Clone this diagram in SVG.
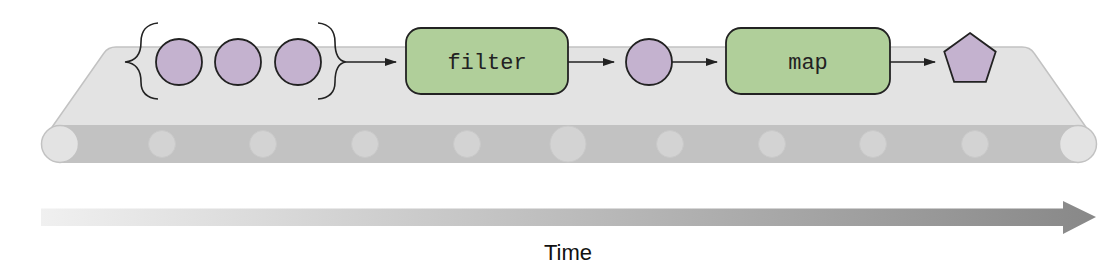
<svg xmlns="http://www.w3.org/2000/svg" width="1120" height="275" viewBox="0 0 1120 275">
<defs>
<style>
.surface{fill:#e3e3e3;stroke:#c2c2c2;stroke-width:1.5}
.band{fill:#c2c2c2}
.roller{fill:#d3d3d3;stroke:#c9c9c9;stroke-width:1}
.endroller{fill:#e3e3e3;stroke:#c2c2c2;stroke-width:1.5}
.item{fill:#c4b2cf;stroke:#222;stroke-width:1.8}
.op{fill:#b0cf9a;stroke:#222;stroke-width:1.8}
.brace{fill:none;stroke:#222;stroke-width:1.6}
.conn{fill:none;stroke:#222;stroke-width:1.5;marker-end:url(#ah)}
.code{font-family:"Liberation Mono",monospace;font-size:22px;fill:#222;text-anchor:middle}
.label{font-family:"Liberation Sans",Arial,sans-serif;font-size:22px;fill:#111;text-anchor:middle}
</style>
<marker id="ah" markerWidth="12" markerHeight="8" refX="11" refY="4" orient="auto" markerUnits="userSpaceOnUse">
<path d="M0,0 L12,4 L0,8 Z" fill="#222"/>
</marker>
<linearGradient id="tg" x1="41" y1="0" x2="1096" y2="0" gradientUnits="userSpaceOnUse">
<stop offset="0" stop-color="#f0f0f0"/>
<stop offset="1" stop-color="#888888"/>
</linearGradient>
</defs>

<g id="belt">
<path class="surface" d="M43,140 L104,53 Q108,47 116,47 L1022,47 Q1030,47 1034,53 L1095,140 Z"/>
<rect class="band" x="60" y="125" width="1018" height="38"/>
<circle class="endroller" cx="60" cy="144" r="18.5"/>
<circle class="endroller" cx="1078" cy="144" r="18.5"/>
<circle class="roller" cx="162" cy="144" r="13.5"/>
<circle class="roller" cx="263" cy="144" r="13.5"/>
<circle class="roller" cx="365" cy="144" r="13.5"/>
<circle class="roller" cx="467" cy="144" r="13.5"/>
<circle class="roller" cx="568" cy="144" r="18"/>
<circle class="roller" cx="670" cy="144" r="13.5"/>
<circle class="roller" cx="772" cy="144" r="13.5"/>
<circle class="roller" cx="873" cy="144" r="13.5"/>
<circle class="roller" cx="975" cy="144" r="13.5"/>
</g>

<g id="input">
<path class="brace" d="M158,23 C146,24 141,32 141,42 C141,54 136,61 125,62 C136,63 141,70 141,82 C141,92 146,98 158,99"/>
<path class="brace" d="M318,23 C330,24 335,32 335,42 C335,54 338,61 346,62 C338,63 335,70 335,82 C335,92 330,98 318,99"/>
<circle class="item" cx="179" cy="62" r="23"/>
<circle class="item" cx="238" cy="62" r="23"/>
<circle class="item" cx="298" cy="62" r="23"/>
</g>

<g id="filter">
<rect class="op" x="406" y="28" width="162" height="66" rx="15"/>
<text class="code" x="487" y="69">filter</text>
</g>

<g id="mid">
<circle class="item" cx="649" cy="62" r="23"/>
</g>

<g id="map">
<rect class="op" x="726" y="28" width="164" height="66" rx="15"/>
<text class="code" x="808" y="69">map</text>
</g>

<g id="output">
<polygon class="item" points="970,33 995.7,51.7 985.9,81.8 954.1,81.8 944.3,51.7"/>
</g>

<g id="connectors">
<line class="conn" x1="346" y1="62" x2="396" y2="62"/>
<line class="conn" x1="568" y1="62" x2="614" y2="62"/>
<line class="conn" x1="672" y1="62" x2="717" y2="62"/>
<line class="conn" x1="890" y1="62" x2="935" y2="62"/>
</g>

<g id="time">
<path d="M41,208.5 L1063,208.5 L1063,201 L1096,217 L1063,234 L1063,226 L41,226 Z" fill="url(#tg)"/>
<text class="label" x="568" y="260">Time</text>
</g>
</svg>
